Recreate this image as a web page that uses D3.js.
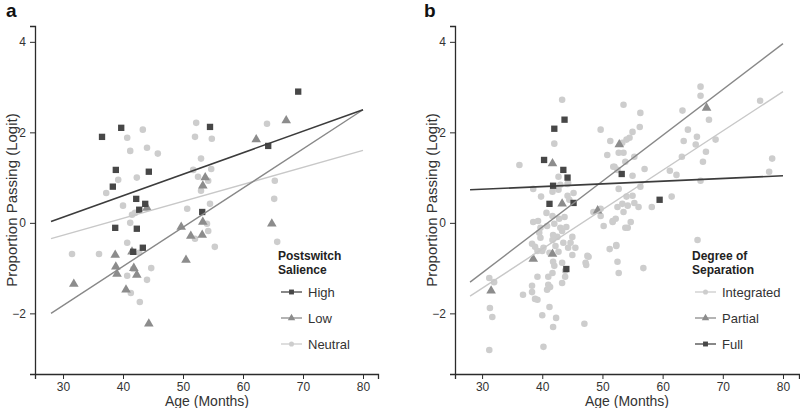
<!DOCTYPE html>
<html><head><meta charset="utf-8">
<script src="https://cdn.jsdelivr.net/npm/d3@7"></script>
<style>
body{margin:0;background:#fff;}
svg{display:block;font-family:"Liberation Sans",Arial,Helvetica,sans-serif;}
</style></head>
<body><svg id="c" width="800" height="408"></svg>
<script>
// ---------- DATA ----------
const xTicks = [30, 40, 50, 60, 70, 80];
const yTicks = [-2, 0, 2, 4];

// Panel a: Postswitch Salience  [age, logit]
const highA = [[36.5,1.90],[39.7,2.10],[38.8,1.17],[44.3,1.13],[38.3,0.80],[43.7,0.42],[42.7,0.29],[42.2,0.53],[38.7,-0.11],[42.3,-0.13],[43.3,-0.55],[41.7,-0.64],[53.2,0.24],[69.2,2.90],[54.5,2.12],[64.2,1.70]];
const lowA = [[67.2,2.26],[62.2,1.84],[53.7,1.00],[53.3,0.82],[53.3,0.02],[51.3,-0.29],[53.2,-0.27],[64.8,-0.02],[49.7,-0.09],[50.5,-0.82],[44.0,0.33],[38.7,-0.71],[41.5,-0.64],[38.8,-0.97],[39.0,-1.13],[41.8,-1.00],[42.3,-1.15],[31.8,-1.35],[40.5,-1.48],[44.3,-2.23]];
const neutralA = [[43.3,2.06],[40.7,1.88],[41.2,1.59],[44.0,1.66],[45.8,1.53],[39.2,0.95],[42.3,1.00],[37.2,0.66],[52.2,2.21],[52.0,1.90],[51.7,1.17],[52.5,1.02],[54.8,1.86],[53.0,1.42],[64.0,2.19],[54.7,1.19],[54.2,0.93],[53.0,0.71],[65.3,0.93],[65.2,0.53],[50.7,0.31],[54.5,0.42],[54.0,-0.02],[54.2,-0.18],[52.0,-0.35],[55.3,-0.53],[65.7,-0.42],[40.0,0.38],[41.5,0.18],[42.0,0.22],[41.2,0.00],[40.7,-0.44],[36.0,-0.69],[42.7,-0.66],[41.7,-1.02],[40.7,-1.17],[44.0,-1.26],[44.7,-1.00],[41.3,-1.55],[42.8,-1.75],[31.5,-0.69]];
// fitted lines: [ageStart, logitStart, ageEnd, logitEnd]
const fitHighA = [28, 0.03, 80, 2.5];
const fitLowA = [28, -2.0, 80, 2.5];
const fitNeutralA = [28, -0.35, 80, 1.6];

// Panel b: Degree of Separation
const fullB = [[43.7,2.28],[42.0,2.08],[40.3,1.39],[43.5,1.17],[44.2,1.00],[41.8,0.82],[41.2,0.42],[45.2,0.44],[53.2,1.08],[59.5,0.51],[44.0,-1.02]];
const partialB = [[41.7,1.31],[43.3,0.42],[52.8,1.73],[67.3,2.54],[38.5,-0.80],[41.7,-0.69],[31.5,-1.50],[49.2,0.27]];
const integratedB = [[43.3,2.72],[42.0,1.75],[36.2,1.28],[49.7,2.06],[51.3,1.81],[50.8,1.50],[52.0,1.24],[52.5,1.17],[42.7,1.02],[44.2,0.86],[38.5,0.75],[39.8,0.58],[41.7,0.69],[42.7,0.73],[44.2,0.60],[45.2,0.66],[44.5,0.51],[48.5,0.24],[49.7,0.31],[39.3,0.04],[40.7,0.22],[41.7,0.15],[42.8,0.09],[43.7,0.13],[39.7,-0.11],[40.8,-0.07],[42.0,-0.02],[43.3,-0.18],[44.0,-0.09],[39.5,-0.22],[42.5,-0.31],[41.7,-0.38],[43.5,-0.44],[45.0,-0.31],[38.3,-0.46],[38.8,-0.53],[40.2,-0.55],[42.2,-0.51],[41.2,-0.66],[42.7,-0.64],[44.3,-0.55],[45.5,-0.55],[47.5,-0.73],[51.2,-0.58],[31.2,-1.22],[32.0,-1.31],[31.3,-1.88],[31.7,-2.08],[31.2,-2.81],[36.8,-1.59],[38.3,-1.39],[38.3,-1.53],[38.8,-1.68],[39.2,-1.70],[39.2,-1.19],[39.2,-0.62],[40.0,-0.62],[40.0,-2.04],[40.2,-2.74],[41.2,-1.86],[41.8,-2.30],[42.3,-2.10],[40.8,-1.48],[41.0,-1.37],[41.3,-1.42],[41.0,-1.19],[41.7,-1.11],[41.8,-0.86],[42.0,-0.95],[43.3,-0.88],[43.3,-1.33],[43.8,-1.19],[43.8,-1.06],[45.0,-0.71],[47.2,-0.88],[47.0,-2.23],[49.7,0.15],[50.2,-0.07],[51.7,0.02],[52.2,0.09],[52.3,-0.49],[52.5,-0.86],[52.7,-1.11],[39.7,-0.33],[41.8,-0.27],[43.0,-0.11],[44.7,-0.44],[66.3,3.01],[66.3,2.81],[53.5,2.61],[56.3,2.43],[63.3,2.48],[76.2,2.70],[67.7,2.28],[56.2,2.12],[55.0,2.01],[64.2,2.06],[54.5,1.88],[54.0,1.84],[53.3,1.77],[65.7,1.90],[63.5,1.81],[68.8,1.84],[65.5,1.73],[52.7,1.55],[53.5,1.55],[55.3,1.46],[53.8,1.35],[67.2,1.57],[63.2,1.46],[66.7,1.35],[78.2,1.42],[77.7,1.13],[51.8,1.24],[57.0,1.19],[61.2,1.15],[62.3,1.06],[55.0,1.04],[66.3,0.93],[52.7,0.75],[56.3,0.80],[55.0,0.60],[54.0,0.58],[61.5,0.58],[58.2,0.35],[52.5,0.35],[53.3,0.42],[54.2,0.38],[55.3,0.44],[56.0,0.35],[53.5,0.24],[51.7,0.04],[54.7,0.02],[53.8,-0.11],[65.8,-0.38],[52.3,-0.51],[56.8,-1.00],[54.2,-0.11],[47.7,-0.75],[47.3,-0.93],[38.5,0.02],[43.0,0.84],[44.3,0.88]];
const fitFullB = [28, 0.73, 80, 1.04];
const fitPartialB = [28, -1.31, 80, 3.96];
const fitIntegratedB = [28, -1.62, 80, 2.9];

const legendA = ["High", "Low", "Neutral"];
const legendB = ["Integrated", "Partial", "Full"];

// ---------- STYLE ----------
const C_DARK = "#474747", C_MID = "#8c8c8c", C_LIGHT = "#cdcdcd";
const AXIS = "#2b2b2b";

const svg = d3.select("#c");

function panel(opt) {
  const g = svg.append("g");
  const x = d3.scaleLinear().domain(opt.xDom).range(opt.xRange);
  const y = d3.scaleLinear().domain([-3.34, 4.35]).range([374, 26]);

  // axes
  const xa = g.append("g").attr("transform", "translate(0,374)")
    .call(d3.axisBottom(x).tickValues(xTicks).tickSizeOuter(0).tickSize(5).tickPadding(3));
  const ya = g.append("g").attr("transform", `translate(${opt.xRange[0]},0)`)
    .call(d3.axisLeft(y).tickValues(yTicks).tickSizeOuter(0).tickSize(5).tickPadding(4)
      .tickFormat(d => d < 0 ? "\u2212" + Math.abs(d) : d));
  [xa, ya].forEach(a => {
    a.selectAll("path").attr("stroke", AXIS).attr("stroke-width", 1.3);
    a.selectAll("line").attr("stroke", AXIS).attr("stroke-width", 1);
    a.selectAll("text").attr("fill", "#333").style("font-size", "12px");
  });

  // points
  opt.series.forEach(s => {
    const sym = d3.symbol().type(s.shape).size(s.size);
    g.append("g").selectAll("path").data(s.data).join("path")
      .attr("d", sym)
      .attr("transform", d => `translate(${x(d[0])},${y(d[1])})`)
      .attr("fill", s.color);
  });
  // fit lines
  opt.fits.forEach(f => {
    g.append("line")
      .attr("x1", x(f.v[0])).attr("y1", y(f.v[1]))
      .attr("x2", x(f.v[2])).attr("y2", y(f.v[3]))
      .attr("stroke", f.color).attr("stroke-width", f.w);
  });

  // titles
  g.append("text").attr("x", opt.xTitleX).attr("y", 406).attr("text-anchor", "middle")
    .attr("fill", "#333").style("font-size", "14px").text("Age (Months)");
  g.append("text").attr("transform", `translate(${opt.yTitleX},200) rotate(-90)`)
    .attr("text-anchor", "middle").attr("fill", "#333").style("font-size", "15px")
    .text("Proportion Passing (Logit)");
  g.append("text").attr("x", opt.letterX).attr("y", 17).attr("font-weight", "bold")
    .style("font-size", "19px").attr("fill", "#111").text(opt.letter);

  // legend
  const lg = g.append("g");
  lg.append("text").attr("x", opt.legX).attr("y", 259.5).attr("font-weight", "bold")
    .style("font-size", "12px").attr("fill", "#222").text(opt.legTitle[0]);
  lg.append("text").attr("x", opt.legX).attr("y", 273.5).attr("font-weight", "bold")
    .style("font-size", "12px").attr("fill", "#222").text(opt.legTitle[1]);
  opt.legItems.forEach((it, i) => {
    const yy = 292 + i * 26;
    lg.append("line").attr("x1", opt.legX + 3).attr("x2", opt.legX + 24)
      .attr("y1", yy).attr("y2", yy).attr("stroke", it.color).attr("stroke-width", 1.3);
    lg.append("path").attr("d", d3.symbol().type(it.shape).size(it.size * 0.6))
      .attr("transform", `translate(${opt.legX + 13.5},${yy})`).attr("fill", it.color);
    lg.append("text").attr("x", opt.legX + 30).attr("y", yy + 4.5)
      .style("font-size", "13px").attr("fill", "#333").text(it.label);
  });
}

const sqA = {shape: d3.symbolSquare, size: 40, color: C_DARK};
const trA = {shape: d3.symbolTriangle, size: 40, color: C_MID};
const ciA = {shape: d3.symbolCircle, size: 34, color: C_LIGHT};

panel({
  xDom: [25.33, 82.5], xRange: [35, 378], letter: "a", letterX: 6,
  xTitleX: 207, yTitleX: 17,
  series: [Object.assign({data: neutralA}, ciA), Object.assign({data: lowA}, trA), Object.assign({data: highA}, sqA)],
  fits: [{v: fitNeutralA, color: "#c8c8c8", w: 1.4}, {v: fitLowA, color: "#888", w: 1.4}, {v: fitHighA, color: "#3c3c3c", w: 1.6}],
  legX: 278, legTitle: ["Postswitch", "Salience"],
  legItems: [Object.assign({label: legendA[0]}, sqA), Object.assign({label: legendA[1]}, trA), Object.assign({label: legendA[2]}, ciA)]
});

panel({
  xDom: [25.5, 82.66], xRange: [455, 799], letter: "b", letterX: 424,
  xTitleX: 627, yTitleX: 437,
  series: [Object.assign({data: integratedB}, ciA), Object.assign({data: partialB}, trA), Object.assign({data: fullB}, sqA)],
  fits: [{v: fitIntegratedB, color: "#c8c8c8", w: 1.4}, {v: fitPartialB, color: "#888", w: 1.4}, {v: fitFullB, color: "#3c3c3c", w: 1.6}],
  legX: 692, legTitle: ["Degree of", "Separation"],
  legItems: [Object.assign({label: legendB[0]}, ciA), Object.assign({label: legendB[1]}, trA), Object.assign({label: legendB[2]}, sqA)]
});
</script></body></html>
